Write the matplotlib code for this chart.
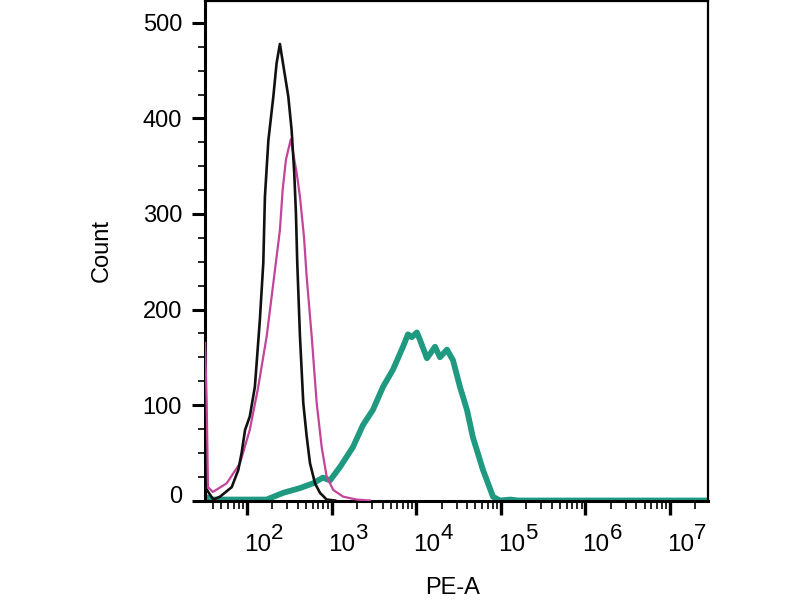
import matplotlib
matplotlib.use("Agg")
import matplotlib.pyplot as plt
import matplotlib.transforms as mtransforms
from matplotlib.ticker import FixedLocator, MultipleLocator, NullFormatter

plt.rcParams['font.family'] = ['Liberation Sans', 'DejaVu Sans']

# ---- data ----
black_x = [32, 40, 48, 66, 79, 86.5, 95, 108, 124, 142, 156, 163, 179, 205, 224, 245,
           308, 337, 362, 379, 393, 423, 463, 508, 556, 637, 730, 875, 1100]
black_y = [14, 1, 4, 14, 32, 50, 74, 88, 119, 189, 249, 318, 377, 423, 458, 478,
           423, 388, 343, 301, 249, 172, 102, 67, 39, 18, 8, 1, 0]

magenta_x = [32, 33.4, 34.6, 39.6, 57.5, 82.7, 108, 136, 171, 214, 245, 264, 289, 329,
             387, 423, 472, 508, 582, 667, 764, 875, 1048, 1374, 1981, 2850]
magenta_y = [165, 102, 14, 9, 18, 39, 74, 119, 172, 241, 283, 325, 357, 378,
             343, 318, 276, 234, 172, 102, 56, 25, 11, 4, 1, 0]

green_x = [32, 40, 171, 267, 423, 603, 791, 957, 1256, 1790, 2350, 3085, 4051, 5318,
           6982, 8000, 8850, 10200, 11100, 13400, 16700, 19100, 23100, 27200, 32900,
           39800, 46900, 61600, 80900, 97800, 130000, 160000, 3e7]
green_y = [4, 1, 1, 8, 13, 18, 24, 21, 35, 56, 79, 95, 119, 137,
           161, 174, 171, 176, 168, 149, 161, 150, 158, 147, 119,
           95, 66, 32, 4, 0, 1, 0, 0]

y_ticks = [0, 100, 200, 300, 400, 500]
decades = [2, 3, 4, 5, 6, 7]

fig = plt.figure(figsize=(8, 6), dpi=100)
ax = fig.add_axes([205 / 800, 1 - 501 / 600, 503 / 800, 500 / 600])

ax.plot(green_x, green_y, color='#1f9a80', lw=4.2, solid_joinstyle='round',
        solid_capstyle='round', zorder=2)
ax.plot(magenta_x, magenta_y, color='#c3449a', lw=1.6, zorder=3)
ax.plot(black_x, black_y, color='#111111', lw=1.9, zorder=4)

ax.set_xscale('log')
ax.set_xlim(10 ** 1.504, 10 ** 7.449)
ax.set_ylim(-0.5, 523)

# y axis
ax.yaxis.set_major_locator(FixedLocator(y_ticks))
ax.yaxis.set_minor_locator(MultipleLocator(25))
ax.set_yticklabels([str(v) for v in y_ticks])
ax.tick_params(axis='y', which='major', length=9.5, width=2.2, pad=7, labelsize=17)
ax.tick_params(axis='y', which='minor', length=5, width=1.2)

# x axis
major_x = [10 ** d for d in [1] + decades]
minor_x = [m * 10 ** d for d in [1] + decades for m in range(2, 10)]
ax.xaxis.set_major_locator(FixedLocator(major_x))
ax.xaxis.set_minor_locator(FixedLocator(minor_x))
ax.xaxis.set_major_formatter(NullFormatter())
ax.xaxis.set_minor_formatter(NullFormatter())
ax.tick_params(axis='x', which='major', length=10, width=2.4)
ax.tick_params(axis='x', which='minor', length=6, width=1.2)

for s in ['left', 'bottom']:
    ax.spines[s].set_linewidth(2.2)
for s in ['top', 'right']:
    ax.spines[s].set_linewidth(1.6)

# custom decade labels: "10" plus a large raised exponent
blend = mtransforms.blended_transform_factory(ax.transData, ax.transAxes)
for d in decades:
    t_base = mtransforms.offset_copy(blend, fig=fig, x=-3, y=-50, units='dots')
    ax.text(10 ** d, 0, '10', transform=t_base, ha='left', va='baseline',
            fontsize=17.5, clip_on=False)
    t_exp = mtransforms.offset_copy(blend, fig=fig, x=24, y=-38, units='dots')
    ax.text(10 ** d, 0, str(d), transform=t_exp, ha='left', va='baseline',
            fontsize=16, clip_on=False)

# shift the "0" label slightly up as in the reference
lbl0 = ax.get_yticklabels()[0]
lbl0.set_transform(lbl0.get_transform() +
                   mtransforms.ScaledTranslation(0, 6 / 100, fig.dpi_scale_trans))

fig.text(108 / 800, 1 - 250 / 600, 'Count', rotation=90, rotation_mode='anchor',
         ha='center', va='baseline', fontsize=17)
fig.text(453 / 800, 1 / 600, 'PE-A', ha='center', va='bottom', fontsize=17)

fig.savefig('out.png', dpi=100)
